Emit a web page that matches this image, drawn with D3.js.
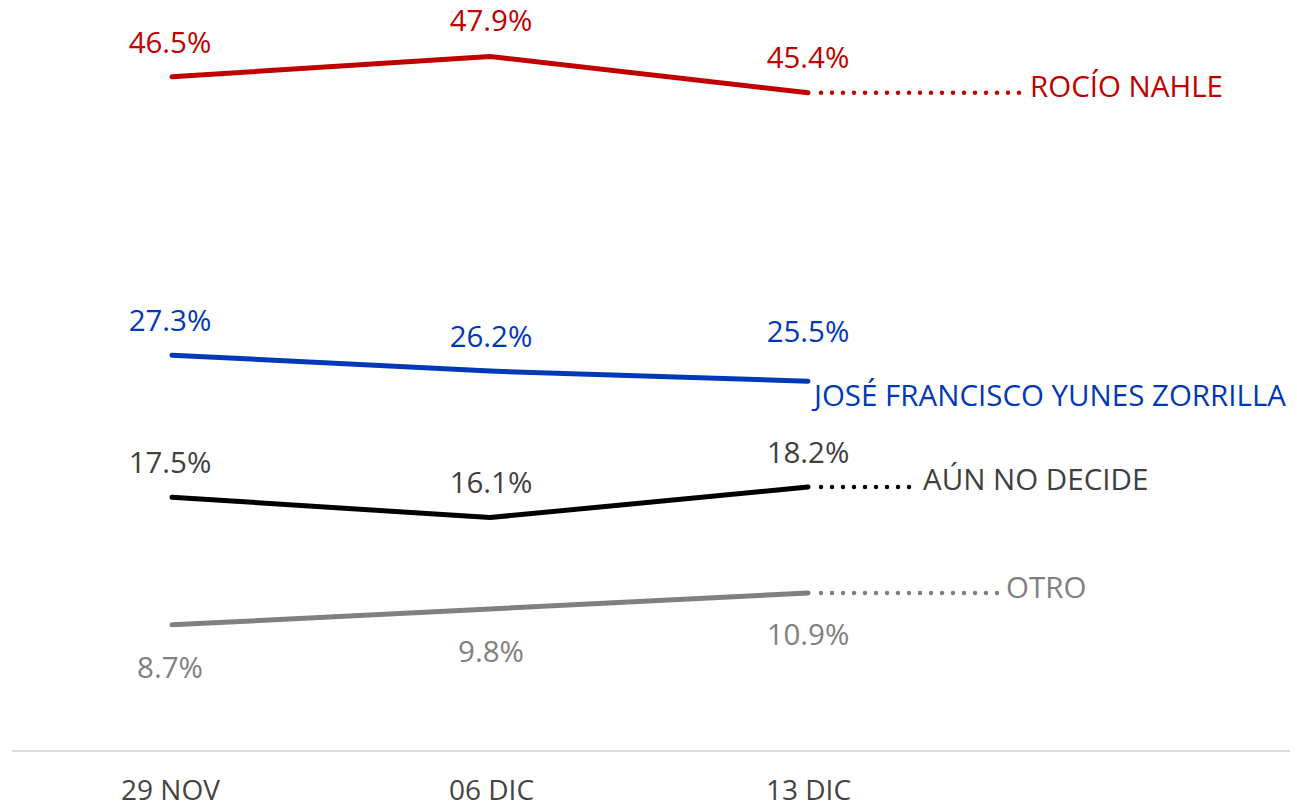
<!DOCTYPE html>
<html><head><meta charset="utf-8">
<script src="https://cdn.jsdelivr.net/npm/d3@7"></script>
<style>body{margin:0;background:#fff}svg{display:block}text{font-family:"Open Sans",sans-serif}</style>
</head><body>
<svg id="c" width="1297" height="810"></svg>
<script>
const dates = ["29 NOV", "06 DIC", "13 DIC"];
const seriesNames = ["ROCÍO NAHLE", "JOSÉ FRANCISCO YUNES ZORRILLA", "AÚN NO DECIDE", "OTRO"];
const nahle = [46.5, 47.9, 45.4];
const yunes = [27.3, 26.2, 25.5];
const indeciso = [17.5, 16.1, 18.2];
const otro = [8.7, 9.8, 10.9];

const styles = [
  {color:"#c00000", text:"#c00000", labelDy:[-35,-37,-36], extendTo:1019.5, nameX:1030, nameDy:-7},
  {color:"#0038b8", text:"#0038b8", labelDy:[-36,-36,-51], extendTo:null, nameX:814, nameDy:13},
  {color:"#000000", text:"#404040", labelDy:[-36,-36,-36], extendTo:909.5, nameX:923, nameDy:-9},
  {color:"#808080", text:"#808080", labelDy:[42,42,41], extendTo:997.5, nameX:1006, nameDy:-6}
];
const labelDx = [-2, 1, 0];
const data = [nahle, yunes, indeciso, otro];
const FS = 29.5;

const svg = d3.select("#c");
const x = d3.scalePoint().domain(dates).range([172, 808]);
const y = d3.scaleLinear().domain([0, 50]).range([751, 26]);

const xAxis = d3.axisBottom(x).tickSize(0).tickPadding(0);
const gx = svg.append("g").attr("transform","translate(0,751)").call(xAxis);
gx.select(".domain").remove();
gx.append("line").attr("x1",12).attr("x2",1290).attr("y1",0).attr("y2",0).attr("stroke","#dcdcdc").attr("stroke-width",2);
gx.selectAll(".tick text").attr("font-size",28).attr("fill","#444").attr("font-family","'Open Sans',sans-serif")
  .attr("dx",(d,i)=>labelDx[i]).attr("y",49).attr("dy","0");

const line = d3.line().x((d,i)=>x(dates[i])).y(d=>y(d));

data.forEach((vals, s) => {
  const st = styles[s];
  const g = svg.append("g");
  const last = vals[vals.length-1];
  if (st.extendTo) {
    g.append("line").attr("x1", x(dates[2]) + 13).attr("x2", st.extendTo)
      .attr("y1", y(last)).attr("y2", y(last))
      .attr("stroke", st.color).attr("stroke-width", 4.5).attr("stroke-linecap","round")
      .attr("stroke-dasharray","0 11");
  }
  g.append("path").datum(vals).attr("d", line).attr("fill","none")
    .attr("stroke", st.color).attr("stroke-width", 5).attr("stroke-linecap","round").attr("stroke-linejoin","round");
  g.selectAll("text.v").data(vals).join("text").attr("class","v")
    .attr("x",(d,i)=>x(dates[i])+labelDx[i]).attr("y",(d,i)=>y(d)+st.labelDy[i])
    .attr("text-anchor","middle").attr("dominant-baseline","central")
    .attr("font-size",FS).attr("fill",st.text).text(d=>d.toFixed(1)+"%");
  g.append("text").attr("x", st.nameX).attr("y", y(last)+st.nameDy)
    .attr("dominant-baseline","central").attr("font-size",FS).attr("fill",st.text)
    .text(seriesNames[s]);
});
</script>
</body></html>
